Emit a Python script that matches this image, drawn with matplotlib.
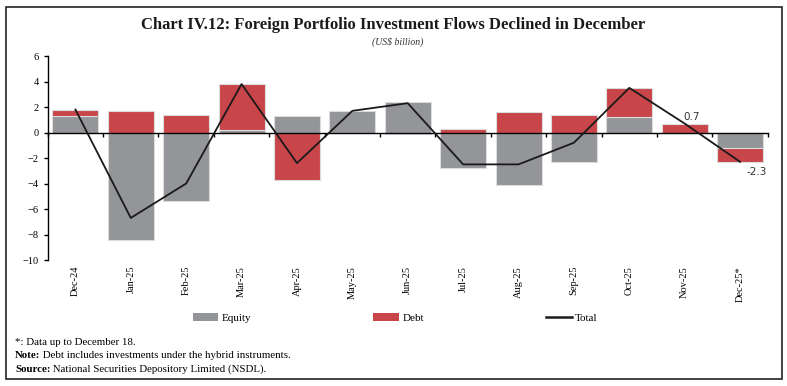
import matplotlib
matplotlib.use("Agg")
import matplotlib.pyplot as plt
from matplotlib.patches import Rectangle, Patch
from matplotlib.lines import Line2D
import numpy as np

plt.rcParams['font.family'] = ['Liberation Serif', 'DejaVu Serif']

# ---- data (US$ billion) ----
months = ["Dec-24", "Jan-25", "Feb-25", "Mar-25", "Apr-25", "May-25", "Jun-25",
          "Jul-25", "Aug-25", "Sep-25", "Oct-25", "Nov-25", "Dec-25*"]
equity = [1.3, -8.4, -5.4, 0.2, 1.3, 1.7, 2.4, -2.8, -4.1, -2.3, 1.2, 0.0, -1.2]
debt = [0.5, 1.7, 1.4, 3.6, -3.7, 0.0, -0.1, 0.3, 1.6, 1.4, 2.3, 0.7, -1.1]
total = [1.8, -6.7, -4.0, 3.8, -2.4, 1.7, 2.3, -2.5, -2.5, -0.8, 3.5, 0.7, -2.3]

GRAY = "#939598"
RED = "#C8454A"

fig = plt.figure(figsize=(7.87, 3.86), dpi=100)

# outer frame
fig.patches.append(Rectangle((6 / 787, 7 / 386), 776 / 787, 372 / 386,
                             transform=fig.transFigure, fill=False,
                             edgecolor="#222222", linewidth=1.2))

ax = fig.add_axes([0.0606, 0.3264, 0.915, 0.5285])
x = np.arange(len(months))

# stack: equity next to zero, debt beyond it when signs agree
eq = np.array(equity)
db = np.array(debt)
db_bottom = np.where(np.sign(eq) == np.sign(db), eq, 0.0)

ax.bar(x, eq, width=0.83, color=GRAY, edgecolor="#dcdcdc", linewidth=0.8, zorder=2)
ax.bar(x, db, width=0.83, bottom=db_bottom, color=RED, edgecolor="#dcdcdc",
       linewidth=0.8, zorder=2)
ax.plot(x, total, color="#1a1a1a", linewidth=1.3, zorder=3)

ax.annotate(f"{total[11]:.1f}", (x[11], total[11]), xytext=(5, 5),
            textcoords="offset points", ha="center", va="center",
            fontsize=7.5, family="DejaVu Sans", color="#333333")
ax.annotate(f"{total[12]:.1f}", (x[12], total[12]), xytext=(12, -7),
            textcoords="offset points", ha="center", va="center",
            fontsize=7.5, family="DejaVu Sans", color="#333333")

ax.set_xlim(-0.5, len(months) - 0.5)
ax.set_ylim(-10, 6)
ax.set_yticks(range(-10, 7, 2))
for s in ["top", "right"]:
    ax.spines[s].set_visible(False)
ax.spines["bottom"].set_position(("data", 0))
ax.spines["bottom"].set_linewidth(1.0)
ax.spines["left"].set_linewidth(1.0)

ax.set_xticks(x, months, rotation=90)
ax.set_xticks(np.arange(-0.5, len(months)), minor=True)
ax.tick_params(axis="x", which="major", length=0, pad=96, labelsize=7.5)
ax.tick_params(axis="x", which="minor", length=3, direction="out", width=1.0)
ax.tick_params(axis="y", length=3, width=1.0, labelsize=7.5)
for lab in ax.get_xticklabels():
    lab.set_va("top")

fig.text(0.5, 0.935, "Chart IV.12: Foreign Portfolio Investment Flows Declined in December",
         ha="center", va="center", fontsize=12, fontweight="bold", color="#1a1a1a")
fig.text(0.505, 0.89, "(US$ billion)", ha="center", va="center", fontsize=7,
         style="italic", color="#333333")

handles = [Patch(facecolor=GRAY, edgecolor="none"),
           Patch(facecolor=RED, edgecolor="none"),
           Line2D([], [], color="#1a1a1a", linewidth=1.8)]
fig.legend(handles, ["Equity", "Debt", "Total"], loc="center",
           bbox_to_anchor=(0.502, 0.176), ncol=3, frameon=False, fontsize=8,
           columnspacing=11.0, handlelength=2.3, handletextpad=0.3)

# footnotes with bold lead-ins
renderer = fig.canvas.get_renderer()
notes = [("", "*: Data up to December 18.", 0.113),
         ("Note:", " Debt includes investments under the hybrid instruments.", 0.079),
         ("Source:", " National Securities Depository Limited (NSDL).", 0.043)]
for head, body, yy in notes:
    x0 = 0.019
    if head:
        t = fig.text(x0, yy, head, fontsize=7.8, fontweight="bold", va="center")
        bb = t.get_window_extent(renderer=renderer)
        x0 = bb.x1 / fig.bbox.width
    fig.text(x0, yy, body, fontsize=7.8, va="center")

fig.savefig("out.png", dpi=100)
